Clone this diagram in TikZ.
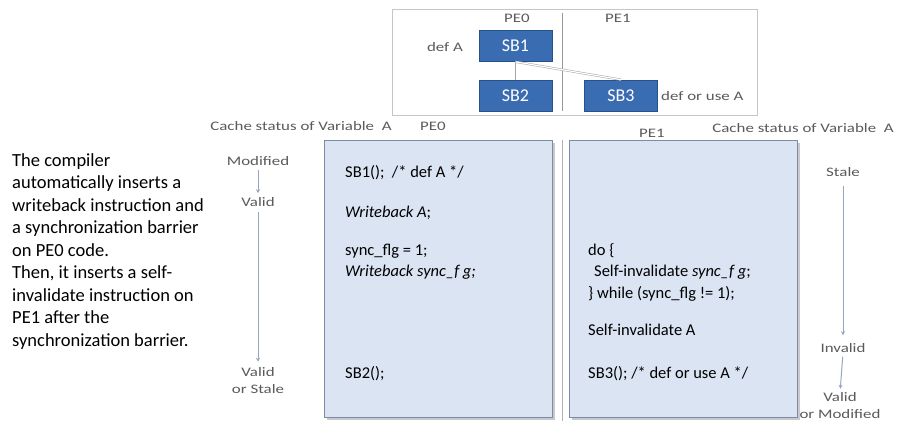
\documentclass[tikz,border=0pt]{standalone}
\usepackage{fontspec}
\setmainfont{Carlito}
\usetikzlibrary{arrows.meta}
\definecolor{sbblue}{RGB}{58,108,178}
\definecolor{sbborder}{RGB}{40,80,140}
\definecolor{codefill}{RGB}{219,228,243}
\definecolor{codeborder}{RGB}{125,140,165}
\definecolor{shadowgray}{RGB}{200,200,205}
\definecolor{lblgray}{RGB}{90,90,90}
\definecolor{arrgray}{RGB}{150,166,192}
\newcommand\wtxt[1]{\scalebox{1.3}[1]{#1}}
\begin{document}
\begin{tikzpicture}[x=1pt,y=-1pt,
  lbl/.style={text=lblgray,font=\fontsize{13}{14}\selectfont,inner sep=0pt,align=center},
  sb/.style={fill=sbblue,draw=sbborder,line width=0.6pt,text=white,minimum width=73pt,minimum height=31pt,inner sep=0pt,font=\fontsize{18}{20}\selectfont},
  codebox/.style={fill=codefill,draw=codeborder,line width=0.8pt},
  boxshadow/.style={fill=shadowgray,draw=none},
  code/.style={anchor=base west,inner sep=0pt,font=\fontsize{16.5}{19}\selectfont},
  para/.style={anchor=base west,inner sep=0pt,font=\fontsize{18.5}{22}\selectfont},
  statarr/.style={draw=arrgray,line width=1pt,-{Stealth[length=4pt,width=4pt]}},
  link/.style={draw=gray!70,line width=0.6pt},
  dlink/.style={draw=gray!70,double=white,double distance=1.2pt,line width=0.5pt}]
\useasboundingbox (0,0) rectangle (900,428);

% top diagram
\draw[draw=gray!45,line width=0.8pt] (392,9) rectangle (757,115);
\draw[draw=gray!80,line width=0.8pt] (562,13) -- (562,111);
\node[lbl] (tpe0) at (517,18) {\wtxt{PE0}};
\node[lbl] (tpe1) at (618,18) {\wtxt{PE1}};
\node[sb] (sb1) at (515.5,46) {SB1};
\node[sb] (sb2) at (515.5,95.5) {SB2};
\node[sb] (sb3) at (621,95.5) {SB3};
\node[lbl] (defa) at (445,47) {\wtxt{def A}};
\node[lbl,anchor=west] (defuse) at (661,96) {\wtxt{def or use A}};
\draw[link] (sb1.south) -- (sb2.north);
\draw[dlink] (sb1.south) -- (sb3.north);

% header labels
\node[lbl] (csl) at (301,126) {\wtxt{Cache status of Variable\ \ A}};
\node[lbl] (hpe0) at (433,126) {\wtxt{PE0}};
\node[lbl] (hpe1) at (652,133) {\wtxt{PE1}};
\node[lbl] (csr) at (803,128) {\wtxt{Cache status of Variable\ \ A}};

% code boxes
\draw[draw=gray!60,line width=1pt] (562,140) -- (562,421);
\fill[boxshadow] (326.5,142.5) rectangle (554.5,419.5);
\fill[boxshadow] (571.5,142.5) rectangle (799.5,419.5);
\draw[codebox] (324,140) rectangle (552,417);
\draw[codebox] (569,140) rectangle (797,417);

\node[code] (c1) at (345,177) {SB1();\ \ /* def A */};
\node[code] (c2) at (345,217) {\textit{Writeback A};};
\node[code] (c3) at (345,255) {sync\_flg = 1;};
\node[code] (c4) at (345,276.5) {\textit{Writeback sync\_f g;}};
\node[code] (c5) at (345,378) {SB2();};

\node[code] (d1) at (588,255) {do \{};
\node[code] (d2) at (594,276.5) {Self-invalidate \textit{sync\_f g};};
\node[code] (d3) at (588,298) {\} while (sync\_flg != 1);};
\node[code] (d4) at (588,335) {Self-invalidate A};
\node[code] (d5) at (588,378) {SB3(); /* def or use A */};

% left status
\node[lbl] (mod) at (258,161) {\wtxt{Modified}};
\node[lbl] (val) at (258,202) {\wtxt{Valid}};
\node[lbl] (vos) at (258,381) {\wtxt{Valid}\\[3pt]\wtxt{or Stale}};
\draw[statarr,shorten <=4pt,shorten >=4pt] (mod.south) -- (val.north);
\draw[statarr,shorten <=5pt,shorten >=6pt] (val.south) -- (vos.north);

% right status
\node[lbl] (stale) at (843,172) {\wtxt{Stale}};
\node[lbl] (inv) at (843,348) {\wtxt{Invalid}};
\node[lbl] (vom) at (840,406) {\wtxt{Valid}\\[3pt]\wtxt{or Modified}};
\draw[statarr,shorten <=9pt,shorten >=8pt] (stale.south) -- (inv.north);
\draw[statarr,shorten <=4pt,shorten >=4pt] (inv.south) -- (vom.north);

% paragraph
\node[para] (p1) at (12,166) {The compiler};
\node[para] (p2) at (12,188.5) {automatically inserts a};
\node[para] (p3) at (12,211) {writeback instruction and};
\node[para] (p4) at (12,233.5) {a synchronization barrier};
\node[para] (p5) at (12,256) {on PE0 code.};
\node[para] (p6) at (12,278.5) {Then, it inserts a self-};
\node[para] (p7) at (12,301) {invalidate instruction on};
\node[para] (p8) at (12,323.5) {PE1 after the};
\node[para] (p9) at (12,346) {synchronization barrier.};
\end{tikzpicture}
\end{document}
